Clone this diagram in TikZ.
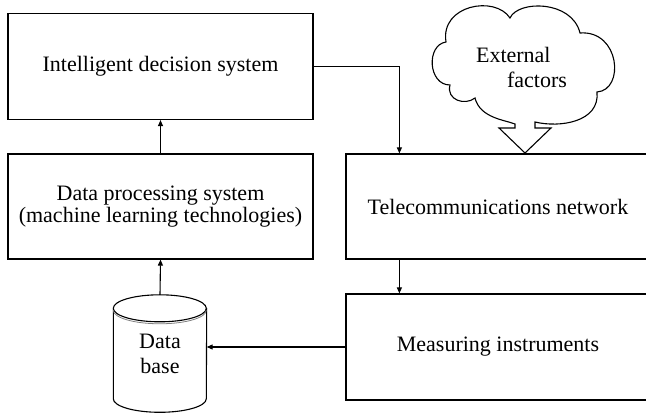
\documentclass[tikz,border=0pt]{standalone}
\usepackage{fontspec}
\setmainfont{Liberation Serif}
\usetikzlibrary{arrows.meta,calc}
\begin{document}
\begin{tikzpicture}[x=1pt,y=-1pt,
  every node/.style={font=\fontsize{22}{22}\selectfont},
  blk/.style={draw,line width=1.2pt,align=center,inner sep=0pt},
  flow/.style={line width=1.1pt,-{Triangle[length=6pt,width=5pt]}},
  outline/.style={line width=1.1pt}]
\useasboundingbox (0,0) rectangle (646,414);
\clip (0,0) rectangle (646,414);

% left column
\node[blk,minimum width=305,minimum height=106] (ids) at (160.5,66.5) {Intelligent decision system};
\node[blk,minimum width=305,minimum height=105] (dps) at (160.5,206.5)
  {Data processing system\\(machine learning technologies)};

% right column (boxes run off the right edge)
\node[blk,minimum width=304,minimum height=105] (tel) at (498,206.5) {Telecommunications network};
\node[blk,minimum width=304,minimum height=106] (mes) at (498,347) {Measuring instruments};

% database cylinder
\node[align=center,inner sep=0pt,minimum width=93,minimum height=117,
  font=\fontsize{22}{25}\selectfont] (db) at (160,353.5) {Data\\base};
\draw[outline,fill=white] (db.north west) ++(0,13.5)
  arc[start angle=180,end angle=-180,x radius=46.5,y radius=-13.5];
\draw[outline] ($(db.north west)+(0,13.5)$) -- ($(db.north west)+(0,104)$)
  arc[start angle=180,end angle=360,x radius=46.5,y radius=-13.5]
  -- ($(db.north east)+(0,13.5)$);
\draw[line width=0.8pt,gray] ($(db.north west)+(0,15.5)$)
  arc[start angle=180,end angle=360,x radius=46.5,y radius=-13.5];

% cloud with its block arrow
\coordinate (cl) at (521.5,67);
\draw[outline,fill=white]
  (450,85) .. controls (428,85) and (426,45) .. (446,42)
  .. controls (440,5) and (495,-5) .. (510,18)
  .. controls (518,0) and (572,0) .. (580,33)
  .. controls (620,30) and (625,90) .. (597,92)
  .. controls (600,122) and (560,128) .. (535,122)
  -- (535,128) -- (551,128) -- (525,153) -- (499,128) -- (515,128) -- (515,124)
  .. controls (505,120) and (480,118) .. (475,98)
  .. controls (465,106) and (446,100) .. (450,85) -- cycle;
\node[align=left,font=\fontsize{22}{25}\selectfont] at (cl) {External\\\hspace*{31pt}factors};

% connectors
\draw[flow] (dps.north) -- (ids.south);
\draw[flow] (db.north) -- (dps.south);
\draw[flow] (ids.east) -| ($(tel.north west)+(54,0)$);
\draw[flow] ($(tel.south west)+(54,0)$) -- ($(mes.north west)+(54,0)$);
\draw[flow] (mes.west) -- (mes.west -| db.east);
\end{tikzpicture}
\end{document}
